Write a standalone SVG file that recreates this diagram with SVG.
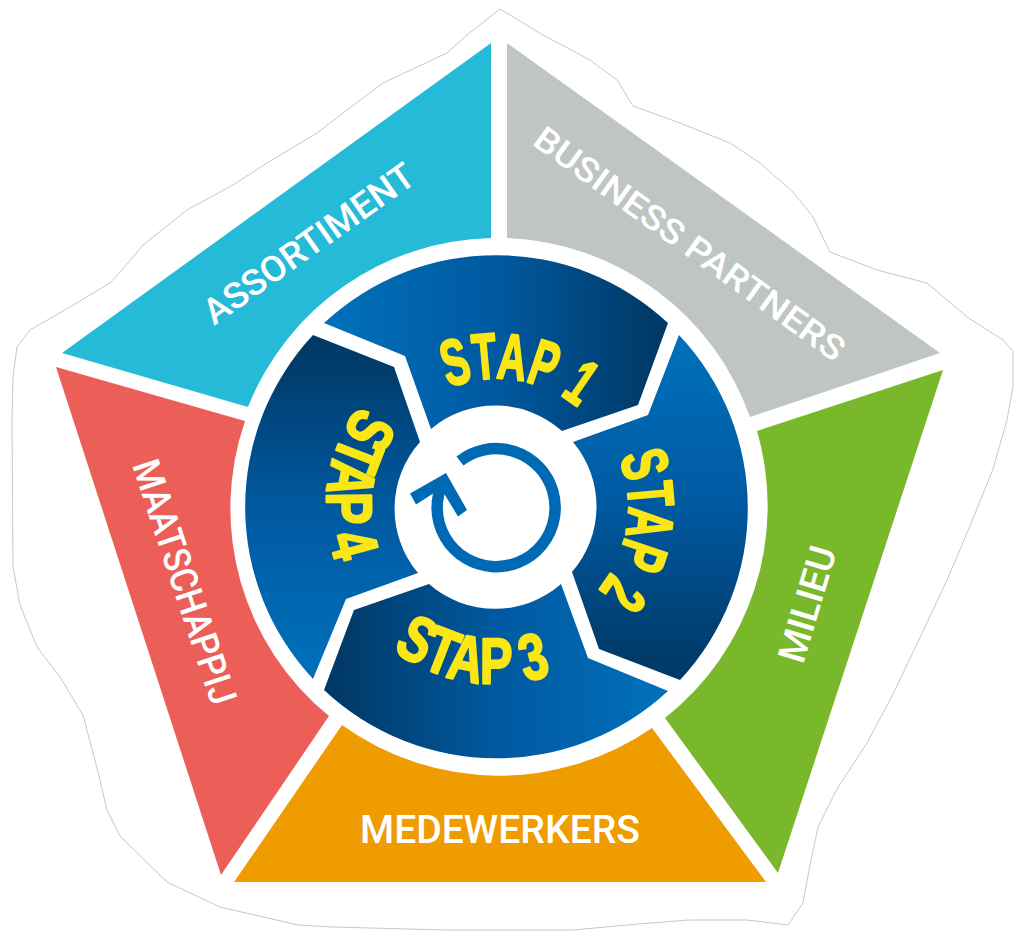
<svg xmlns="http://www.w3.org/2000/svg" width="1015" height="931" viewBox="0 0 1015 931">
<style>
.lbl{font-family:Roboto,"Liberation Sans",sans-serif;font-weight:500;fill:#fff}
.stap{font-family:"Liberation Sans",Arial,sans-serif;font-weight:700;font-size:65px;fill:#fbe616;stroke:#fbe616;stroke-width:2.2px;stroke-linejoin:round}
</style>
<defs>
<linearGradient id="gLR" gradientUnits="userSpaceOnUse" x1="324" y1="0" x2="668" y2="0"><stop offset="0" stop-color="#0071bc"/><stop offset=".5" stop-color="#0059a0"/><stop offset=".95" stop-color="#003a68"/></linearGradient>
<linearGradient id="gRL" gradientUnits="userSpaceOnUse" x1="668" y1="0" x2="324" y2="0"><stop offset="0" stop-color="#0071bc"/><stop offset=".5" stop-color="#0059a0"/><stop offset=".95" stop-color="#003a68"/></linearGradient>
<linearGradient id="gTB" gradientUnits="userSpaceOnUse" x1="0" y1="335" x2="0" y2="680"><stop offset="0" stop-color="#0071bc"/><stop offset=".5" stop-color="#0059a0"/><stop offset=".95" stop-color="#003a68"/></linearGradient>
<linearGradient id="gBT" gradientUnits="userSpaceOnUse" x1="0" y1="680" x2="0" y2="335"><stop offset="0" stop-color="#0071bc"/><stop offset=".5" stop-color="#0059a0"/><stop offset=".95" stop-color="#003a68"/></linearGradient>
<path id="p1" d="M448.6 387.8A128 128 0 0 1 607.4 442.5"/>
<path id="p2" d="M618.9 457.1A132 132 0 0 1 541.6 630.5"/>
<path id="p3" d="M392.5 650A177 177 0 0 0 649.8 595"/>
<path id="p4" d="M359.8 405.5A170 170 0 0 0 411.5 653.7"/>
</defs>
<rect width="1015" height="931" fill="#fff"/>
<polygon id="halo" fill="#fff" stroke="#c8c8c8" stroke-width="1" stroke-linejoin="round" points="500,9 543,35 590,60 617,80 633,106 680,123 730,143 760,163 793,192 813,217 830,252 877,270 927,283 967,317 1003,340 1013,351 1013,386 1007,420 993,469 970,526 947,580 917,644 893,694 867,743 837,789 818,827 810,865 803,903 788,925 747,920 689,920 638,924 573,930 445,930 333,927 298,925 220,907 167,882 120,836 107,810 97,768 83,715 60,677 37,647 20,605 13,567 12,420 13,377 17,347 30,330 70,307 110,283 128,263 143,245 187,210 233,185 267,163 317,133 347,110 383,83 447,53 467,35"/>
<g id="assortiment">
<path fill="#25bad7" d="M491 43V238A268 268 0 0 0 248 407L62 353Z"/>
<text class="lbl" font-size="36" transform="translate(214 326) rotate(-35.3)" textLength="250" lengthAdjust="spacingAndGlyphs">ASSORTIMENT</text>
</g>
<g id="business-partners">
<path fill="#bfc5c1" d="M507 43V238A269 269 0 0 1 750 417L940 353Z"/>
<text class="lbl" font-size="34" transform="translate(531 144) rotate(35.8)" textLength="374" lengthAdjust="spacingAndGlyphs">BUSINESS PARTNERS</text>
</g>
<g id="milieu">
<path fill="#78b82a" d="M943 370L778 873L665 718A270 270 0 0 0 757 431Z"/>
<text class="lbl" font-size="38" transform="translate(803 665) rotate(-73.4)" textLength="119" lengthAdjust="spacingAndGlyphs">MILIEU</text>
</g>
<g id="medewerkers">
<path fill="#ee9c00" d="M234 882H766L652 728A269 269 0 0 1 342 725Z"/>
<text class="lbl" font-size="38" x="360" y="843" textLength="280" lengthAdjust="spacingAndGlyphs">MEDEWERKERS</text>
</g>
<g id="maatschappij">
<path fill="#ec5f59" d="M56 367L245 421A268 268 0 0 0 329 716L221 875Z"/>
<text class="lbl" font-size="38" transform="translate(132 465) rotate(71.7)" textLength="255" lengthAdjust="spacingAndGlyphs">MAATSCHAPPIJ</text>
</g>
<g id="stap-1">
<path fill="url(#gLR)" d="M324 323L405 356L431 429A100 100 0 0 1 562 431L638 405L668 323A252 252 0 0 0 324 323Z"/>
<text class="stap"><textPath href="#p1" textLength="137" lengthAdjust="spacingAndGlyphs">STAP 1</textPath></text>
</g>
<g id="stap-2">
<path fill="url(#gTB)" d="M679 335L648 415L573 442A100 100 0 0 1 572 572L599 649L680 680A252 252 0 0 0 679 335Z"/>
<text class="stap"><textPath href="#p2" textLength="142" lengthAdjust="spacingAndGlyphs">STAP 2</textPath></text>
</g>
<g id="stap-3">
<path fill="url(#gRL)" d="M668 691L588 658L561 584A100 100 0 0 1 429 584L354 610L324 690A252 252 0 0 0 668 691Z"/>
<text class="stap"><textPath href="#p3" textLength="167" lengthAdjust="spacingAndGlyphs">STAP 3</textPath></text>
</g>
<g id="stap-4">
<path fill="url(#gBT)" d="M313 679L346 599L418 573A100 100 0 0 1 420 442L394 367L313 335A252 252 0 0 0 313 679Z"/>
<text class="stap"><textPath href="#p4" textLength="166" lengthAdjust="spacingAndGlyphs">STAP 4</textPath></text>
</g>
<g id="cycle-icon">
<path d="M460 461A59 59 0 1 1 443 482" fill="none" stroke="#0069b4" stroke-width="11.5"/>
<polygon fill="#0069b4" points="410,493.5 446,473 467,510 458,516.5 441,488.5 416,504.5"/>
</g>
</svg>
